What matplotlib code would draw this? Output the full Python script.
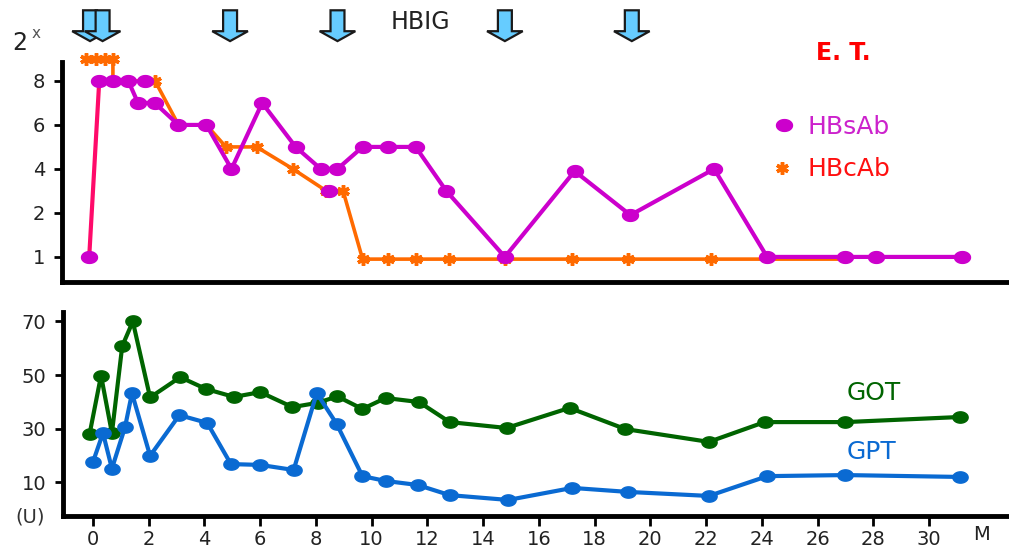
import numpy as np
import matplotlib
matplotlib.use("Agg")
import matplotlib.pyplot as plt
from matplotlib.path import Path
from matplotlib.patches import Polygon
import matplotlib.transforms as mtransforms

plt.rcParams["font.family"] = "DejaVu Sans"

# ---- data (months, values) ----
# HBsAb (log2 titer, 0 -> "1")
hbsab_x = [-0.1, 0.26, 0.75, 1.3, 1.65, 2.25, 3.1, 4.1, 5.0, 6.1, 7.3, 8.2, 8.8,
           9.7, 10.6, 11.6, 12.7, 14.8, 17.3, 19.3, 22.3, 24.2, 27.0, 28.1, 31.2]
hbsab_y = [0, 8, 8, 8, 7, 7, 6, 6, 4, 7, 5, 4, 4,
           5, 5, 5, 3, 0, 3.9, 1.9, 4, 0, 0, 0, 0]
hbsab_extra_x = [1.9, 8.5]
hbsab_extra_y = [8, 3]

hbcab_x = [-0.2, 0.15, 0.45, 0.75, 0.75, 2.26, 3.1, 4.1, 4.8, 5.9, 7.2, 8.4, 9.0,
           9.7, 10.6, 11.6, 12.8, 14.8, 17.2, 19.2, 22.2, 26.7]
hbcab_y = [9, 9, 9, 9, 8, 8, 6, 6, 5, 5, 4, 3, 3,
           -0.1, -0.1, -0.1, -0.1, -0.1, -0.1, -0.1, -0.1, -0.1]
hbcab_marked = [True, True, True, True, False, True, True, True, True, True, True, True, True,
                True, True, True, True, True, True, True, True, False]

got_x = [-0.12, 0.29, 0.68, 1.05, 1.43, 2.05, 3.13, 4.05, 5.06, 6.0, 7.16, 8.06, 8.77,
         9.67, 10.5, 11.7, 12.8, 14.84, 17.1, 19.1, 22.1, 24.1, 27.0, 31.1]
got_y = [28, 49.8, 28.3, 60.8, 70, 41.6, 49.2, 44.8, 41.8, 43.6, 38, 39.6, 42,
         37.3, 41.4, 39.9, 32.4, 30.2, 37.7, 29.8, 25, 32.4, 32.4, 34.3]

gpt_x = [0.0, 0.36, 0.68, 1.15, 1.4, 2.05, 3.1, 4.1, 4.95, 6.0, 7.2, 8.03, 8.74,
         9.67, 10.5, 11.65, 12.8, 14.9, 17.2, 19.2, 22.1, 24.2, 27.0, 31.1]
gpt_y = [17.5, 28.3, 15, 30.5, 43.2, 19.8, 35.0, 32.1, 16.7, 16.4, 14.5, 43.2, 31.8,
         12.2, 10.4, 8.9, 5.1, 3.3, 7.8, 6.3, 4.8, 12.2, 12.6, 11.9]

hbig_x = [-0.07, 0.38, 4.95, 8.8, 14.8, 19.35]

top_ticks = [0, 2, 4, 6, 8]
top_ticklabels = ["1", "2", "4", "6", "8"]
bot_ticks = [10, 30, 50, 70]
x_ticks = list(range(0, 31, 2))

MAGENTA = "#cc00cc"
PINK = "#ff0a6a"
ORANGE = "#ff6a00"
GREEN = "#006400"
BLUE = "#0a6ad2"

t = np.linspace(0, 2 * np.pi, 40)
ellipse = Path(np.column_stack([1.35 * np.cos(t), np.sin(t)]), closed=True)

fig = plt.figure(figsize=(10.09, 5.5), dpi=100)
ax1 = fig.add_axes([62 / 1009, 1 - 282 / 550, 1 - 62 / 1009, 220 / 550])
ax2 = fig.add_axes([63 / 1009, 1 - 516 / 550, 1 - 63 / 1009, 204 / 550])

xlim = (-1.075, 32.87)
for ax in (ax1, ax2):
    ax.set_xlim(*xlim)
    for s in ("top", "right"):
        ax.spines[s].set_visible(False)
    for s in ("left", "bottom"):
        ax.spines[s].set_linewidth(3.5)
    ax.tick_params(axis="y", length=6, width=2, pad=6, labelsize=14, labelcolor="#222222")

# ---- top panel ----
ax1.set_ylim(-1.14, 8.86)
ax1.set_yticks(top_ticks)
ax1.set_yticklabels(top_ticklabels)
ax1.set_xticks([])

ax1.plot(hbcab_x, hbcab_y, color=ORANGE, lw=2.6, zorder=2, clip_on=False)
mx = [x for x, m in zip(hbcab_x, hbcab_marked) if m]
my = [y for y, m in zip(hbcab_y, hbcab_marked) if m]
ax1.plot(mx, my, ls="none", marker=(6, 2, 0), ms=9, mew=2.5, color=ORANGE,
         zorder=3, clip_on=False)

ax1.plot(hbsab_x[:2], hbsab_y[:2], color=PINK, lw=3, zorder=4)
ax1.plot(hbsab_x[1:], hbsab_y[1:], color=MAGENTA, lw=3, zorder=4)
ax1.plot(hbsab_x, hbsab_y, ls="none", marker=ellipse, ms=11.5, color=MAGENTA, zorder=5)
ax1.plot(hbsab_extra_x, hbsab_extra_y, ls="none", marker=ellipse, ms=11.5,
         color=MAGENTA, zorder=5)

# HBIG arrows (x in data, y in axes fraction)
trans = mtransforms.blended_transform_factory(ax1.transData, ax1.transAxes)
sw, hw = 0.25, 0.64
y_top, y_mid, y_tip = 1.235, 1.14, 1.095
for xa in hbig_x:
    verts = [(xa - sw, y_top), (xa + sw, y_top), (xa + sw, y_mid), (xa + hw, y_mid),
             (xa, y_tip), (xa - hw, y_mid), (xa - sw, y_mid)]
    ax1.add_patch(Polygon(verts, closed=True, transform=trans, clip_on=False,
                          facecolor="#66ccff", edgecolor="#1a1a1a", lw=1.6, zorder=6))

fig.text(420 / 1009, 1 - 22 / 550, "HBIG", fontsize=17, color="#222222",
         ha="center", va="center")
fig.text(843 / 1009, 1 - 53 / 550, "E. T.", fontsize=17, color="#ff0000",
         ha="center", va="center", fontweight="semibold")
fig.text(12 / 1009, 1 - 43 / 550, "2", fontsize=17, color="#222222",
         ha="left", va="center")
fig.text(32 / 1009, 1 - 33 / 550, "x", fontsize=11, color="#555555",
         ha="left", va="center")

# manual legend
fig.lines.append(plt.Line2D([784 / 1009], [1 - 125 / 550], transform=fig.transFigure,
                            marker=ellipse, ms=11.5, color=MAGENTA, ls="none"))
fig.lines.append(plt.Line2D([782 / 1009], [1 - 168 / 550], transform=fig.transFigure,
                            marker=(6, 2, 0), ms=9, mew=2.5, color=ORANGE, ls="none"))
fig.text(807 / 1009, 1 - 127 / 550, "HBsAb", fontsize=18, color="#cc22cc",
         ha="left", va="center")
fig.text(807 / 1009, 1 - 169 / 550, "HBcAb", fontsize=18, color="#ff1010",
         ha="left", va="center")

# ---- bottom panel ----
ax2.set_ylim(-2.7, 73.55)
ax2.set_yticks(bot_ticks)
ax2.set_xticks(x_ticks)
ax2.tick_params(axis="x", length=7, width=2, pad=3, labelsize=14, labelcolor="#222222")

ax2.plot(got_x, got_y, color=GREEN, lw=3, marker=ellipse, ms=11, zorder=3)
ax2.plot(gpt_x, gpt_y, color=BLUE, lw=3, marker=ellipse, ms=11, zorder=4)

ax2.text(31.9, -0.045, "M", transform=mtransforms.blended_transform_factory(
    ax2.transData, ax2.transAxes), fontsize=14, color="#222222",
    ha="center", va="top")
fig.text(30 / 1009, 1 - 517 / 550, "(U)", fontsize=14, color="#333333",
         ha="center", va="center")
fig.text(847 / 1009, 1 - 393 / 550, "GOT", fontsize=18, color=GREEN,
         ha="left", va="center")
fig.text(847 / 1009, 1 - 452 / 550, "GPT", fontsize=18, color=BLUE,
         ha="left", va="center")

fig.savefig("out.png", dpi=100, facecolor="white")
